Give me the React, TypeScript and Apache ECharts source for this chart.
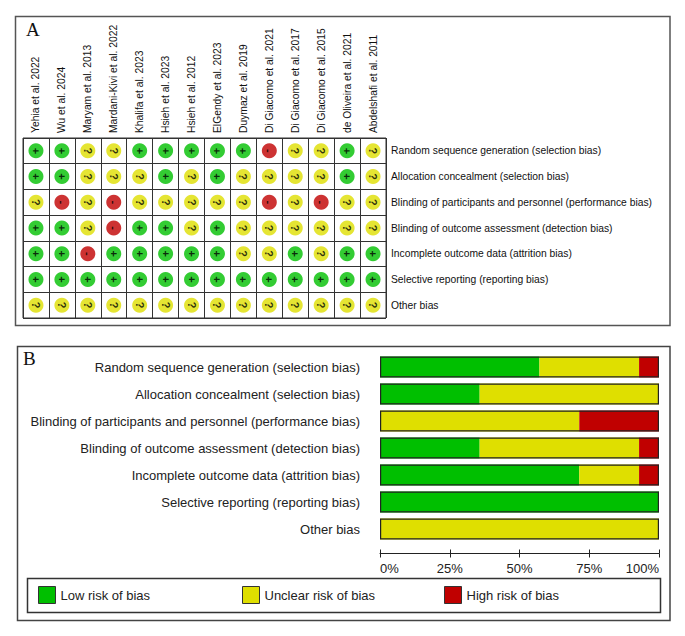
import { useEffect, useRef } from 'react';
import * as echarts from 'echarts';

const studies = [
  'Yehia et al. 2022', 'Wu et al. 2024', 'Maryam et al. 2013', 'Mardani-Kivi et al. 2022',
  'Khalifa et al. 2023', 'Hsieh et al. 2023', 'Hsieh et al. 2012', 'ElGendy et al. 2023',
  'Duymaz et al. 2019', 'Di Giacomo et al. 2021', 'Di Giacomo et al. 2017', 'Di Giacomo et al. 2015',
  'de Oliveira et al. 2021', 'Abdelshafi et al. 2011',
];

const domains = [
  'Random sequence generation (selection bias)',
  'Allocation concealment (selection bias)',
  'Blinding of participants and personnel (performance bias)',
  'Blinding of outcome assessment (detection bias)',
  'Incomplete outcome data (attrition bias)',
  'Selective reporting (reporting bias)',
  'Other bias',
];

// '+' low risk, '?' unclear risk, '-' high risk (one entry per study, in study order)
const randomSequence = ['+', '+', '?', '?', '+', '+', '+', '+', '+', '-', '?', '?', '+', '?'];
const allocation = ['+', '+', '?', '?', '?', '+', '?', '+', '?', '?', '?', '?', '+', '?'];
const blindingParticipants = ['?', '-', '?', '-', '?', '?', '?', '?', '?', '-', '?', '-', '?', '?'];
const blindingOutcome = ['+', '+', '?', '-', '+', '+', '?', '+', '?', '?', '?', '?', '?', '?'];
const incompleteData = ['+', '+', '-', '+', '+', '+', '+', '+', '?', '?', '+', '?', '+', '+'];
const selectiveReporting = ['+', '+', '+', '+', '+', '+', '+', '+', '+', '+', '+', '+', '+', '+'];
const otherBias = ['?', '?', '?', '?', '?', '?', '?', '?', '?', '?', '?', '?', '?', '?'];

const judgements = [
  randomSequence, allocation, blindingParticipants, blindingOutcome,
  incompleteData, selectiveReporting, otherBias,
];

const legendNames = ['Low risk of bias', 'Unclear risk of bias', 'High risk of bias'];
const symbols = ['+', '?', '-'];

const GREEN = '#00bf00';
const YELLOW = '#dfdf00';
const RED = '#c00000';
const colorOf: Record<string, string> = { '+': GREEN, '?': YELLOW, '-': RED };
const FONT = '"Liberation Sans", Arial, sans-serif';
const SERIF = '"Liberation Serif", "Times New Roman", serif';

export default function App() {
  const ref = useRef<HTMLDivElement>(null);
  useEffect(() => {
    const chart = echarts.init(ref.current!, null, { renderer: 'svg' });

    const cells: any[] = [];
    judgements.forEach((row, d) => {
      row.forEach((j, s) => cells.push([s, d, j]));
    });

    const pct = (sym: string) =>
      judgements.map((row) => (row.filter((j) => j === sym).length / row.length) * 100);
    const barColors = [GREEN, YELLOW, RED];
    const totals = judgements.map((row, i) =>
      symbols.reduce((acc, sym) => acc + pct(sym)[i], 0)
    );

    const option: any = {
      animation: false,
      backgroundColor: '#fff',
      textStyle: { fontFamily: FONT },
      grid: [
        { left: 23, top: 138, width: 363, height: 180, show: true, borderColor: '#333', borderWidth: 1 },
        { left: 380, top: 353.5, width: 279, height: 189 },
      ],
      xAxis: [
        {
          gridIndex: 0, type: 'category', data: studies, position: 'top',
          axisLine: { show: false }, axisTick: { show: false },
          splitLine: { show: true, lineStyle: { color: '#333', width: 1 } },
          axisLabel: { interval: 0, rotate: -90, margin: 5, fontSize: 10.3, color: '#111', fontFamily: FONT },
        },
        {
          gridIndex: 1, type: 'value', min: 0, max: 100, interval: 25, position: 'bottom', offset: 11,
          axisLine: { show: true, lineStyle: { color: '#222' } },
          axisTick: { show: true, length: 4, lineStyle: { color: '#222' } },
          splitLine: { show: false },
          axisLabel: {
            formatter: '{value}%', margin: 8, fontSize: 13, color: '#222', fontFamily: FONT,
            alignMinLabel: 'left', alignMaxLabel: 'right',
          },
        },
        {
          gridIndex: 1, type: 'value', min: 0, max: 100, interval: 25, position: 'bottom', offset: 11,
          axisLine: { show: false },
          axisTick: { show: true, inside: true, length: 4, lineStyle: { color: '#222' } },
          splitLine: { show: false },
          axisLabel: { show: false },
        },
      ],
      yAxis: [
        {
          gridIndex: 0, type: 'category', data: domains, inverse: true, position: 'right',
          axisLine: { show: false }, axisTick: { show: false },
          splitLine: { show: true, lineStyle: { color: '#333', width: 1 } },
          axisLabel: { margin: 5, fontSize: 10.3, color: '#111', fontFamily: FONT },
        },
        {
          gridIndex: 1, type: 'category', data: domains, inverse: true,
          axisLine: { show: false }, axisTick: { show: false },
          axisLabel: { margin: 20, fontSize: 13, color: '#222', fontFamily: FONT },
        },
      ],
      legend: legendNames.map((name, i) => ({
        data: [name],
        left: [38, 242, 444][i],
        top: 586,
        padding: 0,
        itemWidth: 17,
        itemHeight: 17,
        itemGap: 0,
        icon: 'rect',
        itemStyle: { borderColor: '#333', borderWidth: 1 },
        textStyle: { fontSize: 13, color: '#222', fontFamily: FONT },
        selectedMode: false,
      })),
      series: [
        {
          type: 'scatter', xAxisIndex: 0, yAxisIndex: 0, data: cells, symbolSize: 15,
          itemStyle: { color: (p: any) => colorOf[p.value[2]] },
          label: {
            show: true, position: 'inside', rotate: -90,
            formatter: (p: any) => p.value[2],
            fontSize: 11, fontWeight: 'bold', color: '#000', fontFamily: FONT,
          },
          silent: true,
        },
        ...symbols.map((sym, i) => ({
          name: legendNames[i], type: 'bar', stack: 'total', xAxisIndex: 1, yAxisIndex: 1,
          data: pct(sym), barWidth: 21, itemStyle: { color: barColors[i] }, silent: true,
        })),
        {
          name: 'frame', type: 'bar', xAxisIndex: 1, yAxisIndex: 1, data: totals,
          barWidth: 21, barGap: '-100%', z: 3, silent: true,
          itemStyle: { color: 'rgba(0,0,0,0)', borderColor: '#222', borderWidth: 1.2 },
        },
      ],
      graphic: [
        { type: 'rect', shape: { x: 15.5, y: 16.5, width: 654.5, height: 309 }, style: { fill: 'none', stroke: '#555', lineWidth: 1.5 } },
        { type: 'rect', shape: { x: 17.5, y: 346.5, width: 652.5, height: 274 }, style: { fill: 'none', stroke: '#444', lineWidth: 1.5 } },
        { type: 'rect', shape: { x: 27.5, y: 578.5, width: 633, height: 34 }, style: { fill: 'none', stroke: '#333', lineWidth: 1.5 } },
        { type: 'text', x: 26, y: 20, style: { text: 'A', fontSize: 19, fontFamily: SERIF, fill: '#111' } },
        { type: 'text', x: 23, y: 349, style: { text: 'B', fontSize: 19, fontFamily: SERIF, fill: '#111' } },
      ],
    };
    chart.setOption(option);
    return () => chart.dispose();
  }, []);
  return (
    <div
      ref={ref}
      style={{ position: 'fixed', left: 0, top: 0, width: 685, height: 636, background: '#fff' }}
    />
  );
}
